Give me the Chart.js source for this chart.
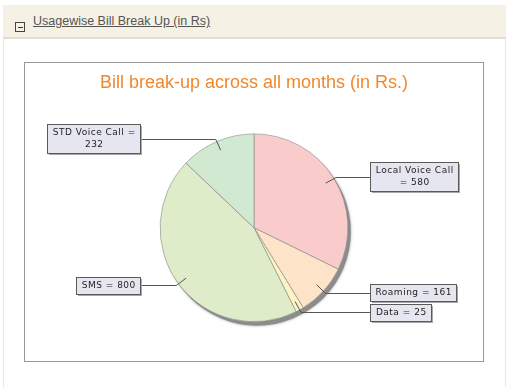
<!DOCTYPE html>
<html><head><meta charset="utf-8">
<script src="https://cdn.jsdelivr.net/npm/chart.js@4"></script>
<style>
html,body{margin:0;padding:0;background:#fff;width:509px;height:387px;overflow:hidden;font-family:Arial,"Liberation Sans",sans-serif;}
#outer{position:absolute;left:3px;top:5px;width:501px;height:400px;border-left:1px solid #ebe7da;border-right:1px solid #ebe7da;}
#head{position:absolute;left:3px;top:5px;width:503px;height:32px;background:#f5f1e5;border-bottom:2px solid #e2ded2;}
#icon{position:absolute;left:12px;top:17px;width:8px;height:8px;border:1px solid #444;background:#f5f1e5;}
#icon:after{content:"";position:absolute;left:2px;top:4px;width:5px;height:1px;background:#333;}
#htext{position:absolute;left:33px;top:14px;font-size:12.5px;color:#555;text-decoration:underline;}
#box{position:absolute;left:24px;top:62px;width:458px;height:298px;border:1px solid #999;background:#fff;}
#wrap{position:relative;width:458px;height:298px;}
</style></head>
<body>
<div id="outer"></div>
<div id="head"><div id="icon"></div></div>
<div id="htext">Usagewise Bill Break Up (in Rs)</div>
<div id="box"><div id="wrap"><canvas id="c" width="458" height="298"></canvas></div></div>
<script>
const categories = ["Local Voice Call", "Roaming", "Data", "SMS", "STD Voice Call"];
const values = [580, 161, 25, 800, 232];
const sliceColors = ["#f9cbcb", "#fde3c7", "#fdf4c6", "#dfecc9", "#d1e8d1"];
const chartTitle = "Bill break-up across all months (in Rs.)";

function wrapText(ctx, text, maxW) {
  const words = text.split(' ');
  const lines = [];
  let cur = '';
  words.forEach(w => {
    const t = cur ? cur + ' ' + w : w;
    if (cur && ctx.measureText(t).width > maxW) { lines.push(cur); cur = w; }
    else cur = t;
  });
  if (cur) lines.push(cur);
  return lines;
}

const shadowPlugin = {
  id: 'pieShadow',
  beforeDatasetsDraw(chart) {
    const arc = chart.getDatasetMeta(0).data[0];
    if (!arc) return;
    const {x, y, outerRadius} = arc.getProps(['x', 'y', 'outerRadius'], true);
    const ctx = chart.ctx;
    ctx.save();
    ctx.shadowColor = 'rgba(0,0,0,0.35)';
    ctx.shadowBlur = 3;
    ctx.fillStyle = '#8c8c8c';
    ctx.beginPath();
    ctx.arc(x + 3, y + 4, outerRadius, 0, Math.PI * 2);
    ctx.fill();
    ctx.restore();
  }
};

const labelPlugin = {
  id: 'outLabels',
  afterDatasetsDraw(chart) {
    const ctx = chart.ctx;
    const meta = chart.getDatasetMeta(0);
    ctx.save();
    ctx.font = '9px "DejaVu Sans"';
    ctx.letterSpacing = '0.5px';
    meta.data.forEach((arc, i) => {
      const {x, y, startAngle, endAngle, outerRadius: r} =
        arc.getProps(['x', 'y', 'startAngle', 'endAngle', 'outerRadius'], true);
      const mid = (startAngle + endAngle) / 2;
      const c = Math.cos(mid), s = Math.sin(mid);
      const p1 = {x: x + c * r * 0.9, y: y + s * r * 0.9};
      const p2 = {x: x + c * r * 1.03, y: y + s * r * 1.03};
      const right = c >= 0;
      const edgeX = right ? x + r + 22 : x - r - 20;
      const text = chart.data.labels[i] + ' = ' + chart.data.datasets[0].data[i];
      const lines = wrapText(ctx, text, 85);
      const lh = 12;
      const w = Math.round(Math.max(...lines.map(l => ctx.measureText(l).width)) + 10);
      const h = lines.length * lh + 5;
      const bx = Math.round(right ? edgeX : edgeX - w);
      const by = Math.round(p2.y - h / 2);
      ctx.strokeStyle = '#555';
      ctx.lineWidth = 1;
      ctx.beginPath();
      ctx.moveTo(p1.x, p1.y);
      ctx.lineTo(p2.x, Math.round(p2.y) + 0.5);
      ctx.lineTo(right ? bx : bx + w, Math.round(p2.y) + 0.5);
      ctx.stroke();
      ctx.fillStyle = '#a8a8a8';
      ctx.fillRect(bx + 2, by + 2, w, h);
      ctx.fillStyle = '#e6e6f1';
      ctx.fillRect(bx, by, w, h);
      ctx.strokeStyle = '#5a5a5a';
      ctx.strokeRect(bx + 0.5, by + 0.5, w, h);
      ctx.fillStyle = '#1e1e1e';
      ctx.textAlign = 'center';
      ctx.textBaseline = 'middle';
      lines.forEach((l, k) => ctx.fillText(l, bx + w / 2 + 0.75, by + 3 + lh * k + lh / 2));
    });
    ctx.restore();
  }
};

new Chart(document.getElementById('c'), {
  type: 'pie',
  data: {
    labels: categories,
    datasets: [{
      data: values,
      backgroundColor: sliceColors,
      borderColor: '#8a8a8a',
      borderWidth: 0.6,
      hoverOffset: 0
    }]
  },
  options: {
    responsive: false,
    animation: false,
    layout: {padding: {top: 0, bottom: 39, left: 0, right: 0}},
    plugins: {
      legend: {display: false},
      tooltip: {enabled: false},
      title: {
        display: true,
        text: chartTitle,
        color: '#f0882c',
        font: {family: 'Arial, "Liberation Sans"', size: 18, weight: 'normal'},
        padding: {top: 9, bottom: 40}
      }
    }
  },
  plugins: [shadowPlugin, labelPlugin]
});
</script>
</body></html>
